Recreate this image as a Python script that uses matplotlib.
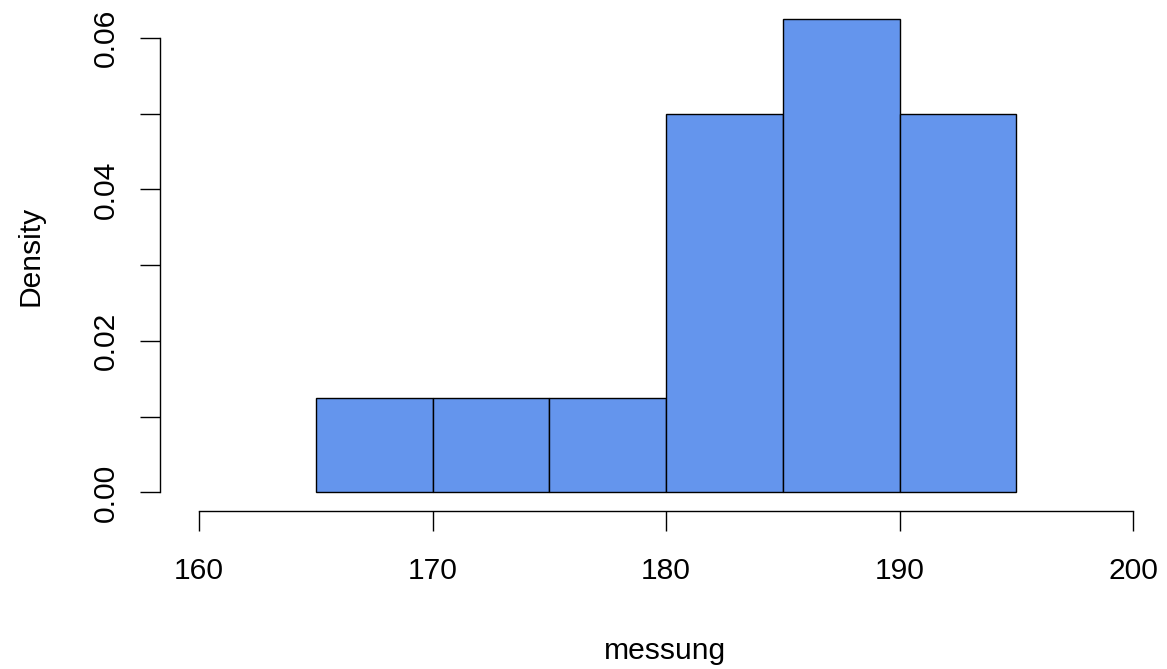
import matplotlib
matplotlib.use("Agg")
import matplotlib.pyplot as plt
import numpy as np

# ---- data ----
bin_edges = [165, 170, 175, 180, 185, 190, 195]
densities = [0.0125, 0.0125, 0.0125, 0.05, 0.0625, 0.05]
x_ticks = [160, 170, 180, 190, 200]
x_tick_labels = ["160", "170", "180", "190", "200"]
y_ticks = [0.00, 0.01, 0.02, 0.03, 0.04, 0.05, 0.06]
y_tick_labels = ["0.00", "", "0.02", "", "0.04", "", "0.06"]
x_label = "messung"
y_label = "Density"

plt.rcParams['font.family'] = ['Liberation Sans', 'DejaVu Sans']
FS = 21.6

W, H = 1167, 669
fig = plt.figure(figsize=(W / 100, H / 100), dpi=100)

# axes placement in pixels
left_px, right_px = 160, 1167
top_px = 0
ylim = (-0.0025, 0.065)
px_per_unit_y = 7576
ax_h_px = (ylim[1] - ylim[0]) * px_per_unit_y
ax = fig.add_axes([left_px / W, (H - top_px - ax_h_px) / H,
                   (right_px - left_px) / W, ax_h_px / H])

px_per_unit_x = 23.35
x160_px = 199
xlim = (160 + (left_px - x160_px) / px_per_unit_x,
        160 + (right_px - x160_px) / px_per_unit_x)
ax.set_xlim(*xlim)
ax.set_ylim(*ylim)

lefts = bin_edges[:-1]
widths = np.diff(bin_edges)
ax.bar(lefts, densities, width=widths, align='edge',
       color='#6495ED', edgecolor='black', linewidth=1.0)

for s in ['top', 'right']:
    ax.spines[s].set_visible(False)
ax.spines['left'].set_bounds(min(y_ticks), max(y_ticks))
ax.spines['bottom'].set_bounds(min(x_ticks), max(x_ticks))
ax.spines['left'].set_linewidth(1.0)
ax.spines['bottom'].set_linewidth(1.0)

ax.set_xticks(x_ticks)
ax.set_xticklabels(x_tick_labels)
ax.set_yticks(y_ticks)
ax.set_yticklabels(y_tick_labels)
ax.tick_params(axis='both', direction='out', length=14.4, width=1.0,
               labelsize=FS, colors='black')
ax.tick_params(axis='x', pad=18.5)
ax.tick_params(axis='y', pad=14.4)
for lab in ax.get_yticklabels():
    lab.set_rotation(90)
    lab.set_va('center')

ax.set_xlabel(x_label, fontsize=FS)
ax.set_ylabel(y_label, fontsize=FS)
ax.xaxis.set_label_coords(0.5015, (ax_h_px - 637) / ax_h_px)
ax.yaxis.set_label_coords((44.6 - left_px) / (right_px - left_px), 0.5)

fig.savefig("out.png", dpi=100)
